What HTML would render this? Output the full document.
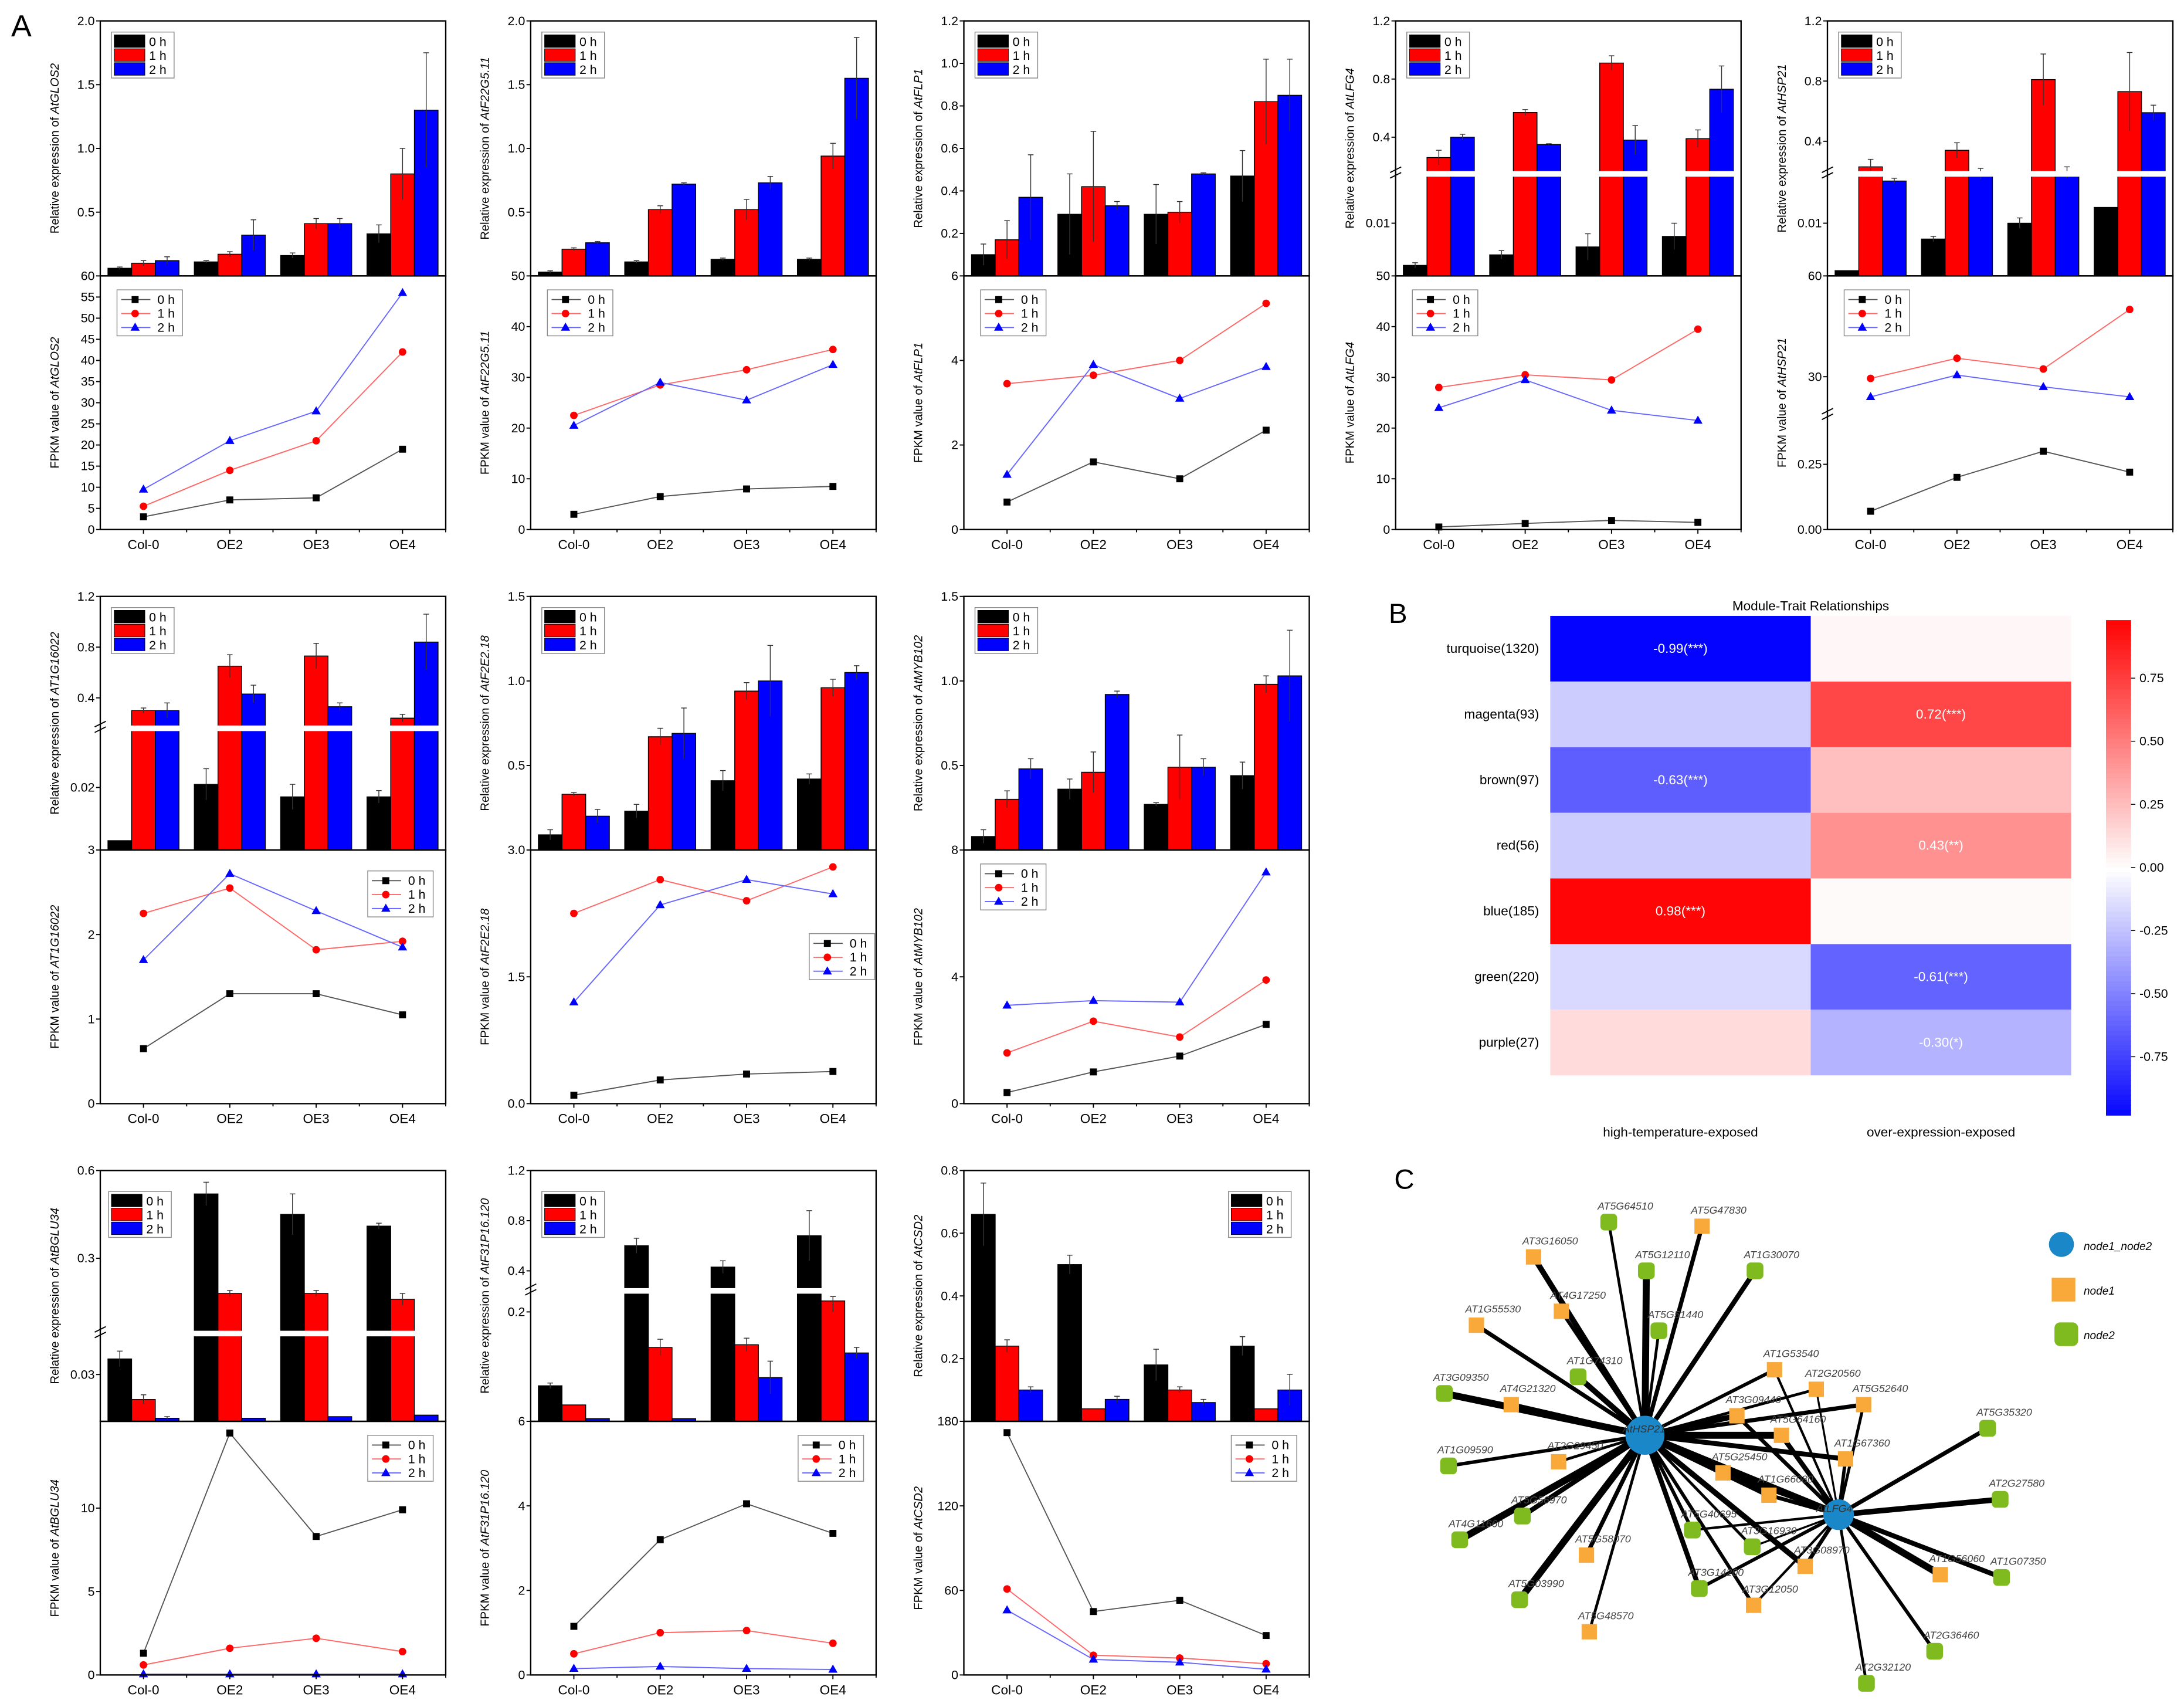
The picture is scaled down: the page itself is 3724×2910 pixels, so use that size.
<!DOCTYPE html>
<html><head><meta charset="utf-8"><title>Figure</title>
<style>
html,body{margin:0;padding:0;background:#fff;}
svg{display:block;font-family:"Liberation Sans",Arial,sans-serif;}
</style></head>
<body>
<svg id="fig" xmlns="http://www.w3.org/2000/svg" width="3724" height="2910" viewBox="0 0 1568 1225" preserveAspectRatio="none">
<rect x="0" y="0" width="1568" height="1225" fill="#fff"/>
<text x="8" y="26" font-size="22">A</text>
<text x="997" y="447" font-size="20">B</text>
<text x="1001" y="853" font-size="20">C</text>
</svg>
<script>
// ---------- Panel A data ----------
const categories = ["Col-0","OE2","OE3","OE4"];
const genes = ["AtGLOS2","AtF22G5.11","AtFLP1","AtLFG4","AtHSP21","AT1G16022","AtF2E2.18","AtMYB102","AtBGLU34","AtF31P16.120","AtCSD2"];
const bar0h = [[0.06,0.11,0.16,0.33],[0.03,0.11,0.13,0.13],[0.1,0.29,0.29,0.47],[0.002,0.004,0.0055,0.0075],[0.001,0.007,0.01,0.013],[0.003,0.021,0.017,0.017],[0.09,0.23,0.41,0.42],[0.08,0.36,0.27,0.44],[0.04,0.52,0.45,0.41],[0.065,0.6,0.43,0.68],[0.66,0.5,0.18,0.24]];
const bar1h = [[0.1,0.17,0.41,0.8],[0.21,0.52,0.52,0.94],[0.17,0.42,0.3,0.82],[0.26,0.57,0.91,0.39],[0.23,0.34,0.81,0.73],[0.3,0.65,0.73,0.24],[0.33,0.67,0.94,0.96],[0.3,0.46,0.49,0.98],[0.014,0.18,0.18,0.16],[0.03,0.135,0.14,0.22],[0.24,0.04,0.1,0.04]];
const bar2h = [[0.12,0.32,0.41,1.3],[0.26,0.72,0.73,1.55],[0.37,0.33,0.48,0.85],[0.4,0.35,0.38,0.73],[0.13,0.18,0.19,0.59],[0.3,0.43,0.33,0.84],[0.2,0.69,1.0,1.05],[0.48,0.92,0.49,1.03],[0.002,0.002,0.003,0.004],[0.005,0.005,0.08,0.125],[0.1,0.07,0.06,0.1]];
const err0h = [[0.01,0.01,0.02,0.07],[0.01,0.01,0.01,0.01],[0.05,0.19,0.14,0.12],[0.0005,0.0008,0.0025,0.0025],[0,0.0005,0.001,0],[0,0.005,0.004,0.002],[0.03,0.04,0.06,0.03],[0.04,0.06,0.01,0.08],[0.005,0.04,0.07,0.01],[0.005,0.06,0.05,0.2],[0.1,0.03,0.05,0.03]];
const err1h = [[0.02,0.02,0.04,0.2],[0.01,0.03,0.08,0.1],[0.09,0.26,0.05,0.2],[0.05,0.02,0.05,0.06],[0.05,0.05,0.17,0.26],[0.02,0.09,0.1,0.03],[0.01,0.05,0.05,0.05],[0.05,0.12,0.19,0.05],[0.003,0.01,0.01,0.02],[0,0.015,0.012,0.02],[0.02,0,0.01,0]];
const err2h = [[0.03,0.12,0.04,0.45],[0.01,0.01,0.05,0.32],[0.2,0.02,0.005,0.17],[0.02,0.005,0.1,0.16],[0.02,0.04,0.04,0.05],[0.06,0.07,0.03,0.22],[0.04,0.15,0.21,0.04],[0.06,0.02,0.05,0.27],[0.001,0,0,0],[0,0,0.03,0.01],[0.01,0.01,0.01,0.05]];
const line0h = [[3,7,7.5,19],[3,6.5,8,8.5],[0.65,1.6,1.2,2.35],[0.5,1.2,1.8,1.4],[0.07,0.2,0.3,0.22],[0.65,1.3,1.3,1.05],[0.1,0.28,0.35,0.38],[0.35,1.0,1.5,2.5],[1.3,14.5,8.3,9.9],[1.15,3.2,4.05,3.35],[172,45,53,28]];
const line1h = [[5.5,14,21,42],[22.5,28.5,31.5,35.5],[3.45,3.65,4.0,5.35],[28,30.5,29.5,39.5],[29.5,35.5,32.3,50],[2.25,2.55,1.82,1.92],[2.25,2.65,2.4,2.8],[1.6,2.6,2.1,3.9],[0.6,1.6,2.2,1.4],[0.5,1.0,1.05,0.75],[61,14,12,8]];
const line2h = [[9.5,21,28,56],[20.5,29,25.5,32.5],[1.3,3.9,3.1,3.85],[24,29.5,23.5,21.5],[24,30.5,27,24],[1.7,2.72,2.28,1.85],[1.2,2.35,2.65,2.48],[3.1,3.25,3.2,7.3],[0.05,0.05,0.05,0.05],[0.15,0.2,0.15,0.13],[46,11,9,4]];
const barTicks = [["0.5","1.0","1.5","2.0"],["0.5","1.0","1.5","2.0"],["0.2","0.4","0.6","0.8","1.0","1.2"],["0.01","0.4","0.8","1.2"],["0.01","0.4","0.8","1.2"],["0.02","0.4","0.8","1.2"],["0.5","1.0","1.5"],["0.5","1.0","1.5"],["0.03","0.3","0.6"],["0.2","0.4","0.8","1.2"],["0.2","0.4","0.6","0.8"]];
const lineTicks = [["0","5","10","15","20","25","30","35","40","45","50","55","60"],["0","10","20","30","40","50"],["0","2","4","6"],["0","10","20","30","40","50"],["0.00","0.25","30","60"],["0","1","2","3"],["0.0","1.5","3.0"],["0","4","8"],["0","5","10"],["0","2","4","6"],["0","60","120","180"]];

// ---------- Panel B data ----------
const modules = ["turquoise(1320)","magenta(93)","brown(97)","red(56)","blue(185)","green(220)","purple(27)"];
const traits = ["high-temperature-exposed","over-expression-exposed"];
const corrHigh = [-0.99,-0.2,-0.63,-0.2,0.98,-0.15,0.14];
const corrOver = [0.03,0.72,0.25,0.43,0.02,-0.61,-0.30];
const labelHigh = ["-0.99(***)","","-0.63(***)","","0.98(***)","",""];
const labelOver = ["","0.72(***)","","0.43(**)","","-0.61(***)","-0.30(*)"];
const cbTicks = [0.75,0.5,0.25,0,-0.25,-0.5,-0.75];

// ---------- layout (not data) ----------
const colX=[72,381,692,1002,1312], rowTop=[15,428,840], rowMid=[198,610,1020], rowBot=[380,792,1202];
const PW=248;
const panelPos=[[0,0],[1,0],[2,0],[3,0],[4,0],[0,1],[1,1],[2,1],[0,2],[1,2],[2,2]];
const barSeg=[
 [[0,2,0,1]],[[0,2,0,1]],[[0,1.2,0,1]],
 [[0,0.015,0,0.31],[0.2,1.2,0.43,1]],
 [[0,0.015,0,0.31],[0.2,1.2,0.41,1]],
 [[0,0.03,0,0.37],[0.2,1.2,0.5,1]],
 [[0,1.5,0,1]],[[0,1.5,0,1]],
 [[0,0.045,0,0.28],[0.06,0.6,0.37,1]],
 [[0,0.22,0,0.48],[0.3,1.2,0.55,1]],
 [[0,0.8,0,1]]];
const barBreak=[null,null,null,0.4,0.4,0.48,null,null,0.35,0.52,null];
const lineSeg=[[[0,60,0,1]],[[0,50,0,1]],[[0,6,0,1]],[[0,50,0,1]],[[0,0.35,0,0.36],[20,60,0.47,1]],[[0,3,0,1]],[[0,3,0,1]],[[0,8,0,1]],[[0,15.2,0,1]],[[0,6,0,1]],[[0,180,0,1]]];
const lineBreak=[null,null,null,null,0.45,null,null,null,null,null,null];
const barLeg=[[8,8],[8,8],[8,8],[8,8],[8,8],[8,8],[8,8],[8,8],[6,15],[8,15],[190,15]];
const lineLeg=[[12,10],[12,10],[12,10],[12,10],[12,10],[192,15],[200,60],[12,10],[192,10],[192,10],[192,10]];
const colors=["#000","#f00","#00f"];
const lineColors=["#555","#f66","#66f"];

const NS="http://www.w3.org/2000/svg";
const svg=document.getElementById('fig');
function el(tag,attrs,parent){const e=document.createElementNS(NS,tag);for(const k in attrs)e.setAttribute(k,attrs[k]);(parent||svg).appendChild(e);return e;}
function mkScale(segs,yBottom,h){return v=>{
  let f=null;
  for(let k=0;k<segs.length;k++){const s=segs[k];
    if(v>=s[0]&&v<=s[1]){f=s[2]+(v-s[0])/(s[1]-s[0])*(s[3]-s[2]);break;}
    if(k+1<segs.length&&v>s[1]&&v<segs[k+1][0]){const n=segs[k+1];f=s[3]+(v-s[1])/(n[0]-s[1])*(n[2]-s[3]);break;}}
  if(f===null){const s=v<segs[0][0]?segs[0]:segs[segs.length-1];f=s[2]+(v-s[0])/(s[1]-s[0])*(s[3]-s[2]);}
  return yBottom-f*h;};}
function txt(x,y,str,size,anchor,parent){const t=el('text',{x:x,y:y,'font-size':size,'text-anchor':anchor||'start'},parent);t.textContent=str;return t;}
function marker(s,x,y,g){
  if(s===0)return el('rect',{x:x-2.5,y:y-2.5,width:5,height:5,fill:'#000'},g);
  if(s===1)return el('circle',{cx:x,cy:y,r:2.7,fill:'#f00'},g);
  return el('polygon',{points:`${x},${y-3.5} ${x-3.3},${y+2.3} ${x+3.3},${y+2.3}`,fill:'#00f'},g);}
function geneTitle(g,x,y,prefix,name,gene){
  const t=el('text',{x:0,y:0,'font-size':8.5,'text-anchor':'middle',transform:`translate(${x},${y}) rotate(-90)`},g);
  
  
  const a=el('tspan',{},t);a.textContent=prefix;
  const b=el('tspan',{'font-style':'italic'},t);b.textContent=gene;
  return t;
}
const series=["0 h","1 h","2 h"];
for(let p=0;p<genes.length;p++){
  const [c,r]=panelPos[p];const L=colX[c],T=rowTop[r],M=rowMid[r],B=rowBot[r];
  const g=el('g',{});
  
  
  const bh=M-T, lh=B-M;
  const ys=mkScale(barSeg[p],M,bh), yl=mkScale(lineSeg[p],B,lh);
  const cx=i=>L+PW*(i+0.5)/4;
  const bw=17;const bars=[bar0h[p],bar1h[p],bar2h[p]], errs=[err0h[p],err1h[p],err2h[p]];
  for(let s=0;s<3;s++)for(let i=0;i<4;i++){
    const x=cx(i)+(s-1.5)*bw, y=ys(bars[s][i]);
    const rc=el('rect',{x:x,y:y,width:bw,height:M-y,fill:colors[s],stroke:'#000','stroke-width':0.6},g);
    
    
    const e=errs[s][i];if(e>0){const y1=ys(bars[s][i]+e),y2=ys(Math.max(0,bars[s][i]-e)),xm=x+bw/2;
      el('line',{x1:xm,y1:y1,x2:xm,y2:y2,stroke:'#333','stroke-width':0.6},g);
      el('line',{x1:xm-2,y1:y1,x2:xm+2,y2:y1,stroke:'#333','stroke-width':0.6},g);}
  }
  if(barBreak[p]!==null){const yb=M-bh*barBreak[p];el('rect',{x:L-3,y:yb-2,width:PW+6,height:4,fill:'#fff'},g);
    el('line',{x1:L-4,y1:yb-1,x2:L+4,y2:yb-5,stroke:'#000','stroke-width':0.8},g);el('line',{x1:L-4,y1:yb+3,x2:L+4,y2:yb-1,stroke:'#000','stroke-width':0.8},g);}
  el('rect',{x:L,y:T,width:PW,height:bh,fill:'none',stroke:'#000','stroke-width':1},g);
  barTicks[p].forEach(tk=>{const y=ys(parseFloat(tk));el('line',{x1:L-3,y1:y,x2:L,y2:y,stroke:'#000','stroke-width':0.8},g);txt(L-4,y+3,tk,9,'end',g);});
  const [lx,ly]=barLeg[p];const bl=el('g',{},g);
  
  
  el('rect',{x:L+lx,y:T+ly,width:45,height:33,fill:'#fff',stroke:'#888','stroke-width':0.6},bl);
  for(let s=0;s<3;s++){el('rect',{x:L+lx+2,y:T+ly+2+s*10,width:22,height:9,fill:colors[s],stroke:'#000','stroke-width':0.4},bl);txt(L+lx+27,T+ly+10+s*10,series[s],9,'start',bl);}
  const lines=[line0h[p],line1h[p],line2h[p]];
  for(let s=0;s<3;s++){
    const pts=lines[s].map((v,i)=>cx(i)+','+yl(v)).join(' ');
    const pl=el('polyline',{points:pts,fill:'none',stroke:lineColors[s],'stroke-width':0.8},g);
    
    
    lines[s].forEach((v,i)=>{const m=marker(s,cx(i),yl(v),g);
      
      });
  }
  if(lineBreak[p]!==null){const yb=B-lh*lineBreak[p];el('rect',{x:L-3,y:yb-2,width:5,height:4,fill:'#fff'},g);
    el('line',{x1:L-4,y1:yb-1,x2:L+4,y2:yb-5,stroke:'#000','stroke-width':0.8},g);el('line',{x1:L-4,y1:yb+3,x2:L+4,y2:yb-1,stroke:'#000','stroke-width':0.8},g);}
  el('rect',{x:L,y:M,width:PW,height:lh,fill:'none',stroke:'#000','stroke-width':1},g);
  lineTicks[p].forEach(tk=>{const y=yl(parseFloat(tk));el('line',{x1:L-3,y1:y,x2:L,y2:y,stroke:'#000','stroke-width':0.8},g);txt(L-4,y+3,tk,9,'end',g);});
  categories.forEach((cat,i)=>{el('line',{x1:cx(i),y1:B,x2:cx(i),y2:B+3,stroke:'#000','stroke-width':0.8},g);el('line',{x1:L+PW*(i+1)/4,y1:B,x2:L+PW*(i+1)/4,y2:B+2,stroke:'#000','stroke-width':0.8},g);
    const t=txt(cx(i),B+14,cat,9.5,'middle',g);});
  const [mx,my]=lineLeg[p];const ll=el('g',{},g);
  
  
  el('rect',{x:L+mx,y:M+my,width:47,height:33,fill:'#fff',stroke:'#888','stroke-width':0.6},ll);
  for(let s=0;s<3;s++){const yy=M+my+7+s*10;el('line',{x1:L+mx+3,y1:yy,x2:L+mx+24,y2:yy,stroke:lineColors[s],'stroke-width':0.8},ll);
    marker(s,L+mx+13,yy,ll);txt(L+mx+29,yy+3,series[s],9,'start',ll);}
  const titleX = L-30;
  geneTitle(g,titleX,(T+M)/2,'Relative expression of ','bar-y-axis-title',genes[p]);
  geneTitle(g,titleX,(M+B)/2,'FPKM value of ','line-y-axis-title',genes[p]);
}

// ---------- Panel B heatmap ----------
const hx0=1113,hy0=442,cw=187,rh=47.1;
function corrColor(v){const a=Math.min(1,Math.abs(v));const k=Math.round(255*(1-a));return v>=0?`rgb(255,${k},${k})`:`rgb(${k},${k},255)`;}
const hb=el('g',{});
txt(1300,438,'Module-Trait Relationships',9.5,'middle',hb);
modules.forEach((m,i)=>{
  const vals=[corrHigh[i],corrOver[i]],labs=[labelHigh[i],labelOver[i]];
  for(let j=0;j<2;j++){const c=el('rect',{x:hx0+j*cw,y:hy0+i*rh,width:cw,height:rh,fill:corrColor(vals[j])},hb);
    
    if(labs[j]){const t=txt(hx0+j*cw+cw/2,hy0+i*rh+rh/2+3,labs[j],9.5,'middle',hb);t.setAttribute('fill','#fff');}}
  const t=txt(hx0-8,hy0+i*rh+rh/2+3,m,9.5,'end',hb);
});
traits.forEach((t,j)=>{const e=txt(hx0+j*cw+cw/2,hy0+7*rh+44,t,9.5,'middle',hb);});
const cbx=1512,cby0=445,cby1=800,cbMid=(cby0+cby1)/2,cbK=(cby1-cby0)/2/0.98;
for(let k=0;k<100;k++){const v=0.98-k*1.96/100;el('rect',{x:cbx,y:cby0+k*(cby1-cby0)/100,width:18,height:(cby1-cby0)/100+0.6,fill:corrColor(v)},hb);}
cbTicks.forEach(v=>{const y=cbMid-v*cbK;el('line',{x1:cbx+18,y1:y,x2:cbx+21,y2:y,stroke:'#000','stroke-width':0.6},hb);txt(cbx+24,y+3,v.toFixed(2),9,'start',hb);});

// ---------- Panel C network ----------
const hubs=[{n:'AtHSP21',x:1181,y:1030,r:14},{n:'AtLFG4',x:1320,y:1087,r:11}];
const nodes=[
['AT5G64510',1155,877,2,0],['AT5G47830',1222,880,1,0],['AT3G16050',1101,902,1,0],['AT5G12110',1182,912,2,0],['AT1G30070',1260,912,2,0],
['AT4G17250',1121,941,1,0],['AT5G51440',1191,955,2,0],['AT1G55530',1060,951,1,0],['AT1G74310',1133,988,2,0],['AT3G09350',1037,1000,2,0],
['AT4G21320',1085,1008,1,0],['AT1G53540',1274,983,1,2],['AT2G20560',1304,997,1,2],['AT5G52640',1338,1008,1,2],['AT3G09440',1247,1016,1,2],
['AT5G64160',1279,1030,1,2],['AT1G67360',1325,1047,1,2],['AT1G09590',1040,1052,2,0],['AT2G29450',1119,1049,1,0],['AT5G25450',1237,1057,1,2],
['AT1G66080',1270,1073,1,2],['AT4G11660',1048,1105,2,0],['AT5G56970',1093,1088,2,0],['AT5G40695',1215,1098,2,2],['AT3G16930',1258,1110,2,2],
['AT5G58070',1139,1116,1,0],['AT3G08970',1296,1124,1,2],['AT5G03990',1091,1148,2,0],['AT3G14200',1220,1140,2,2],['AT3G12050',1259,1152,1,2],
['AT5G48570',1141,1171,1,0],['AT5G35320',1427,1025,2,1],['AT2G27580',1436,1076,2,1],['AT1G56060',1393,1130,1,1],['AT1G07350',1437,1132,2,1],
['AT2G36460',1389,1185,2,1],['AT2G32120',1340,1208,2,1]];
const nw=el('g',{});
const widths=[2,3,4,5,3.5,2.5];
nodes.forEach((nd,i)=>{const w=widths[i%widths.length];
  if(nd[4]===0||nd[4]===2)el('line',{x1:hubs[0].x,y1:hubs[0].y,x2:nd[1],y2:nd[2],stroke:'#000','stroke-width':w},nw);
  if(nd[4]===1||nd[4]===2)el('line',{x1:hubs[1].x,y1:hubs[1].y,x2:nd[1],y2:nd[2],stroke:'#000','stroke-width':nd[4]===2?w*0.7:w},nw);});
el('line',{x1:hubs[0].x,y1:hubs[0].y,x2:hubs[1].x,y2:hubs[1].y,stroke:'#000','stroke-width':5},nw);
nodes.forEach(nd=>{let m;
  if(nd[3]===1)m=el('rect',{x:nd[1]-5.5,y:nd[2]-5.5,width:11,height:11,fill:'#f8a93a'},nw);
  else m=el('rect',{x:nd[1]-6,y:nd[2]-6,width:12,height:12,rx:3,fill:'#7fba1e'},nw);
  
  const t=txt(nd[1]-8,nd[2]-9,nd[0],7.5,'start',nw);t.setAttribute('font-style','italic');t.setAttribute('fill','#444');});
hubs.forEach(h=>{const c=el('circle',{cx:h.x,cy:h.y,r:h.r,fill:'#1a88c8'},nw);
  const t=txt(h.x-16,h.y-2,h.n,7.5,'start',nw);t.setAttribute('font-style','italic');t.setAttribute('fill','#333');});
const lc=el('g',{});
el('circle',{cx:1480,cy:893,r:9,fill:'#1a88c8'},lc);txt(1496,897,'node1_node2',8,'start',lc).setAttribute('font-style','italic');
el('rect',{x:1473,y:917,width:17,height:17,fill:'#f8a93a'},lc);txt(1496,929,'node1',8,'start',lc).setAttribute('font-style','italic');
el('rect',{x:1475,y:949,width:17,height:17,rx:4,fill:'#7fba1e'},lc);txt(1496,961,'node2',8,'start',lc).setAttribute('font-style','italic');
</script>
</body></html>
